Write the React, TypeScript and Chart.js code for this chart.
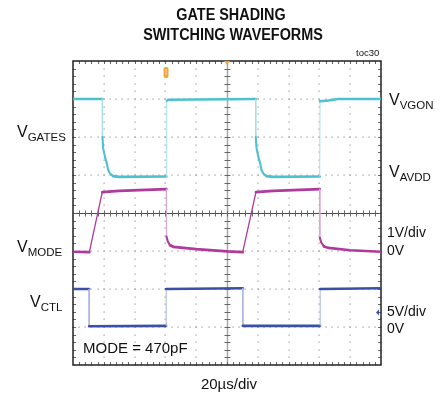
import React, { useEffect, useRef } from "react";
import { Chart, registerables } from "chart.js";

Chart.register(...registerables);

// Horizontal axis in divisions (20µs/div), vertical axis in divisions
const gatesX = [0, 0.95, 0.955, 0.98, 1.04, 1.1, 1.14, 1.2, 1.3, 1.5, 3.03, 3.04, 3.1, 5.93, 5.935, 5.96, 6.02, 6.08, 6.12, 6.18, 6.28, 6.5, 8.01, 8.02, 8.3, 8.6, 10];
const gatesY = [7.0, 7.0, 6.0, 5.7, 5.47, 5.3, 5.13, 5.04, 4.97, 4.95, 4.96, 6.95, 6.98, 7.0, 6.0, 5.7, 5.47, 5.3, 5.13, 5.04, 4.97, 4.95, 4.96, 6.94, 6.96, 7.0, 7.0];

const modeX = [0, 0.53, 0.95, 1.5, 3.03, 3.035, 3.08, 3.15, 3.26, 4.0, 5.0, 5.51, 5.94, 6.5, 8.01, 8.015, 8.06, 8.15, 8.3, 9.0, 10];
const modeY = [2.98, 2.97, 4.55, 4.58, 4.63, 3.38, 3.25, 3.15, 3.11, 3.05, 2.99, 2.97, 4.55, 4.58, 4.63, 3.35, 3.22, 3.12, 3.08, 3.02, 2.98];

const ctlX = [0, 0.52, 0.525, 3.02, 3.025, 5.51, 5.515, 8.02, 8.025, 10];
const ctlY = [2.0, 2.0, 1.02, 1.03, 2.0, 2.02, 1.03, 1.03, 2.0, 2.02];

const xDivs = 10;
const yDivs = 8;
const triggerX = 3.02;
const triggerMarkX = 5;
const ctlGroundY = 1.38;

const titleLines = ["GATE SHADING", "SWITCHING WAVEFORMS"];

const pts = (xs: number[], ys: number[]) => xs.map((x, i) => ({ x, y: ys[i] }));

function seg(base: string, light: string) {
  return {
    borderColor: (c: any) => (Math.abs(c.p1.parsed.x - c.p0.parsed.x) < 0.02 ? light : base),
    borderWidth: (c: any) => {
      const dx = Math.abs(c.p1.parsed.x - c.p0.parsed.x);
      const dy = Math.abs(c.p1.parsed.y - c.p0.parsed.y);
      if (dx < 0.02) return 1;
      if (dy / dx > 3 && dy > 1) return 1.3;
      return dy / dx > 0.5 ? 2.1 : 2.7;
    },
    borderCapStyle: "round",
  };
}

const gridPlugin = {
  id: "scopeGrid",
  beforeDraw(chart: any) {
    const { ctx } = chart;
    ctx.save();
    ctx.fillStyle = "#ffffff";
    ctx.fillRect(0, 0, chart.width, chart.height);
    ctx.restore();
  },
  beforeDatasetsDraw(chart: any) {
    const { ctx, chartArea: a } = chart;
    const sx = chart.scales.x;
    const sy = chart.scales.y;
    ctx.save();
    // dotted grid
    ctx.fillStyle = "#999999";
    for (let i = 1; i < xDivs; i++) {
      if (i === xDivs / 2) continue;
      const px = Math.round(sx.getPixelForValue(i));
      for (let j = 0; j <= yDivs * 5; j++) {
        const py = Math.round(sy.getPixelForValue(j / 5));
        ctx.fillRect(px - 0.5, py - 0.5, 1.2, 1.2);
      }
    }
    for (let j = 1; j < yDivs; j++) {
      if (j === yDivs / 2) continue;
      const py = Math.round(sy.getPixelForValue(j));
      for (let i = 0; i <= xDivs * 5; i++) {
        const px = Math.round(sx.getPixelForValue(i / 5));
        ctx.fillRect(px - 0.5, py - 0.5, 1.2, 1.2);
      }
    }
    // center lines
    const cx = Math.round(sx.getPixelForValue(xDivs / 2)) + 0.5;
    const cy = Math.round(sy.getPixelForValue(yDivs / 2)) + 0.5;
    ctx.strokeStyle = "#a8a8a8";
    ctx.lineWidth = 1.5;
    ctx.beginPath();
    ctx.moveTo(cx, a.top);
    ctx.lineTo(cx, a.bottom);
    ctx.stroke();
    ctx.strokeStyle = "#4a4a4a";
    ctx.lineWidth = 1;
    ctx.beginPath();
    ctx.moveTo(a.left, cy);
    ctx.lineTo(a.right, cy);
    ctx.stroke();
    // minor ticks
    ctx.strokeStyle = "#666";
    ctx.lineWidth = 1;
    ctx.beginPath();
    for (let j = 1; j < yDivs * 5; j++) {
      const py = Math.round(sy.getPixelForValue(j / 5)) + 0.5;
      ctx.moveTo(cx - 3, py);
      ctx.lineTo(cx + 3, py);
      ctx.moveTo(a.left, py);
      ctx.lineTo(a.left + 3, py);
      ctx.moveTo(a.right - 3, py);
      ctx.lineTo(a.right, py);
    }
    for (let i = 1; i < xDivs * 5; i++) {
      const px = Math.round(sx.getPixelForValue(i / 5)) + 0.5;
      ctx.moveTo(px, cy - 3);
      ctx.lineTo(px, cy + 3);
      ctx.moveTo(px, a.top);
      ctx.lineTo(px, a.top + 3);
      ctx.moveTo(px, a.bottom - 3);
      ctx.lineTo(px, a.bottom);
    }
    ctx.stroke();
    // border
    ctx.strokeStyle = "#222";
    ctx.lineWidth = 1.5;
    ctx.strokeRect(a.left, a.top, a.right - a.left, a.bottom - a.top);
    ctx.restore();
  },
  afterDraw(chart: any) {
    const { ctx, chartArea: a } = chart;
    const sx = chart.scales.x;
    const sy = chart.scales.y;
    const F = '"Liberation Sans", Arial, sans-serif';
    ctx.save();
    ctx.fillStyle = "#111";
    // title
    const drawCond = (t: string, x: number, y: number) => {
      ctx.save();
      ctx.translate(x, y);
      ctx.scale(0.9, 1);
      ctx.textAlign = "center";
      ctx.font = `bold 16px ${F}`;
      ctx.fillText(t, 0, 0);
      ctx.restore();
    };
    drawCond(titleLines[0], 231, 20);
    drawCond(titleLines[1], 233, 40);
    ctx.textAlign = "left";
    ctx.font = `9.5px ${F}`;
    ctx.fillText("toc30", 356, 56);

    const sub = (main: string, s: string, x: number, y: number) => {
      ctx.font = `16px ${F}`;
      ctx.fillText(main, x, y);
      const w = ctx.measureText(main).width;
      ctx.font = `11.5px ${F}`;
      ctx.fillText(s, x + w, y + 3.5);
    };
    sub("V", "GATES", 17, 137);
    sub("V", "MODE", 17, 252);
    sub("V", "CTL", 30, 307);
    sub("V", "VGON", 389, 105);
    sub("V", "AVDD", 389, 177);

    ctx.font = `14px ${F}`;
    ctx.fillText("1V/div", 387, 237);
    ctx.fillText("0V", 387, 255);
    ctx.fillText("5V/div", 387, 316);
    ctx.fillText("0V", 387, 333);

    ctx.font = `15px ${F}`;
    ctx.fillText("MODE = 470pF", 83, 353);
    ctx.textAlign = "center";
    ctx.fillText("20µs/div", 229, 389);

    // trigger marker
    const tx = sx.getPixelForValue(triggerX);
    ctx.fillStyle = "#F2A43A";
    ctx.beginPath();
    ctx.roundRect(tx - 2.5, a.top + 6, 5, 11, 2);
    ctx.fill();
    ctx.fillStyle = "#FBD9A0";
    ctx.fillRect(tx - 0.5, a.top + 8, 1, 6);
    const mx = sx.getPixelForValue(triggerMarkX);
    ctx.fillStyle = "#F2A43A";
    ctx.beginPath();
    ctx.moveTo(mx - 3, a.top);
    ctx.lineTo(mx + 3, a.top);
    ctx.lineTo(mx, a.top + 4);
    ctx.closePath();
    ctx.fill();
    // ground marker for CTL on right
    const gy = sy.getPixelForValue(ctlGroundY);
    ctx.fillStyle = "#3A4FA8";
    ctx.beginPath();
    ctx.moveTo(a.right - 5, gy);
    ctx.lineTo(a.right - 2, gy - 3);
    ctx.lineTo(a.right - 2, gy + 3);
    ctx.closePath();
    ctx.fill();
    ctx.restore();
  },
};

export default function App() {
  const ref = useRef<HTMLCanvasElement>(null);
  useEffect(() => {
    if (!ref.current) return;
    const chart = new Chart(ref.current, {
      type: "line",
      data: {
        datasets: [
          { data: pts(ctlX, ctlY), borderColor: "#3A4FA8", segment: seg("#3A4FA8", "#A9B4E0"), pointRadius: 0, tension: 0 },
          { data: pts(modeX, modeY), borderColor: "#B03A9C", segment: seg("#B03A9C", "#DBA6D1"), pointRadius: 0, tension: 0 },
          { data: pts(gatesX, gatesY), borderColor: "#4CC1CF", segment: seg("#4CC1CF", "#A9DFE7"), pointRadius: 0, tension: 0, borderJoinStyle: "round" },
        ] as any,
      },
      options: {
        animation: false,
        responsive: false,
        devicePixelRatio: 1,
        layout: { padding: { left: 73, top: 61, right: 62, bottom: 28 } },
        scales: {
          x: { type: "linear", min: 0, max: xDivs, display: false },
          y: { type: "linear", min: 0, max: yDivs, display: false },
        },
        plugins: { legend: { display: false }, tooltip: { enabled: false } },
        elements: { point: { radius: 0 } },
      } as any,
      plugins: [gridPlugin],
    });
    return () => chart.destroy();
  }, []);
  return (
    <div style={{ position: "fixed", left: 0, top: 0, width: 443, height: 393 }}>
      <canvas ref={ref} width={443} height={393} style={{ width: 443, height: 393, display: "block" }} />
    </div>
  );
}
